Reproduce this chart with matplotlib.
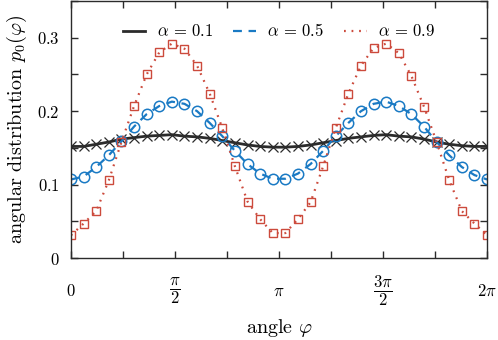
import numpy as np
import matplotlib
matplotlib.use("Agg")
import matplotlib.pyplot as plt

plt.rcParams['font.family'] = 'serif'
plt.rcParams['font.serif'] = ['cmr10']
plt.rcParams['mathtext.fontset'] = 'cm'
plt.rcParams['axes.formatter.use_mathtext'] = True
plt.rcParams['axes.unicode_minus'] = False

# sample angles (34 points over one period)
phi = np.linspace(0, 2 * np.pi, 34)

# alpha = 0.1
p_01 = [0.152, 0.152, 0.155, 0.158, 0.162, 0.164, 0.166, 0.167, 0.168, 0.166,
        0.165, 0.163, 0.160, 0.157, 0.154, 0.152, 0.151, 0.151, 0.152, 0.154,
        0.157, 0.160, 0.163, 0.165, 0.167, 0.168, 0.166, 0.165, 0.162, 0.158,
        0.155, 0.153, 0.152, 0.152]
# alpha = 0.5
p_05 = [0.107, 0.111, 0.124, 0.140, 0.159, 0.179, 0.196, 0.207, 0.213, 0.210,
        0.200, 0.184, 0.166, 0.146, 0.128, 0.115, 0.108, 0.108, 0.115, 0.128,
        0.146, 0.166, 0.184, 0.200, 0.210, 0.213, 0.207, 0.196, 0.179, 0.158,
        0.140, 0.124, 0.113, 0.107]
# alpha = 0.9
p_09 = [0.031, 0.047, 0.064, 0.106, 0.158, 0.207, 0.250, 0.280, 0.292, 0.285,
        0.262, 0.224, 0.177, 0.125, 0.077, 0.053, 0.034, 0.034, 0.053, 0.076,
        0.125, 0.177, 0.224, 0.262, 0.286, 0.292, 0.279, 0.248, 0.206, 0.158,
        0.106, 0.064, 0.047, 0.031]

labels = [r'$\alpha\,=\,0.1$', r'$\alpha\,=\,0.5$', r'$\alpha\,=\,0.9$']
c_black = '#2b2b2b'
c_blue = '#1a7ac4'
c_red = '#cc4a3c'

fig = plt.figure(figsize=(4.98, 3.40), dpi=100)
ax = fig.add_axes([0.1426, 0.241, 0.8354, 0.756])

ax.plot(phi, p_01, color=c_black, lw=2.0, ls='-', label=labels[0])
ax.plot(phi, p_01, ls='none', marker='x', ms=6.5, mew=0.9, color=c_black)
ax.plot(phi, p_05, color=c_blue, lw=1.6, ls=(0, (4, 3)), label=labels[1])
ax.plot(phi, p_05, ls='none', marker='o', ms=7.5, mew=1.1, mfc='none', mec=c_blue)
ax.plot(phi, p_09, color=c_red, lw=1.6, ls=(0, (0.8, 2.6)), label=labels[2])
ax.plot(phi, p_09, ls='none', marker='s', ms=5.8, mew=1.0, mfc='none', mec=c_red)

ax.set_xlim(0, 2 * np.pi)
ax.set_ylim(0, 0.35)

xt = np.arange(9) * np.pi / 4
xl = ['$0$', '', r'$\dfrac{\pi}{2}$', '', r'$\pi$', '', r'$\dfrac{3\pi}{2}$', '', r'$2\pi$']
ax.set_xticks(xt)
ax.set_xticklabels(xl)
yt = np.arange(8) * 0.05
yl = ['$0$', '', '$0.1$', '', '$0.2$', '', '$0.3$', '']
ax.set_yticks(yt)
ax.set_yticklabels(yl)

ax.tick_params(direction='in', length=5, width=1.0, color=c_black,
               top=True, right=True, labelsize=12)
ax.tick_params(axis='x', pad=24)
ax.tick_params(axis='y', pad=8)
for t in ax.get_xticklabels():
    t.set_verticalalignment('center')
for s in ax.spines.values():
    s.set_color(c_black)
    s.set_linewidth(1.0)

ax.set_xlabel(r'angle $\varphi$', fontsize=14.5, labelpad=6)
ax.set_ylabel(r'angular distribution $p_0(\varphi)$', fontsize=14.5, labelpad=6)

ax.legend(loc='upper center', ncol=3, frameon=False, fontsize=12,
          handlelength=1.35, handletextpad=0.7, columnspacing=1.2,
          bbox_to_anchor=(0.5, 0.975))

fig.savefig('out.png', dpi=100)
